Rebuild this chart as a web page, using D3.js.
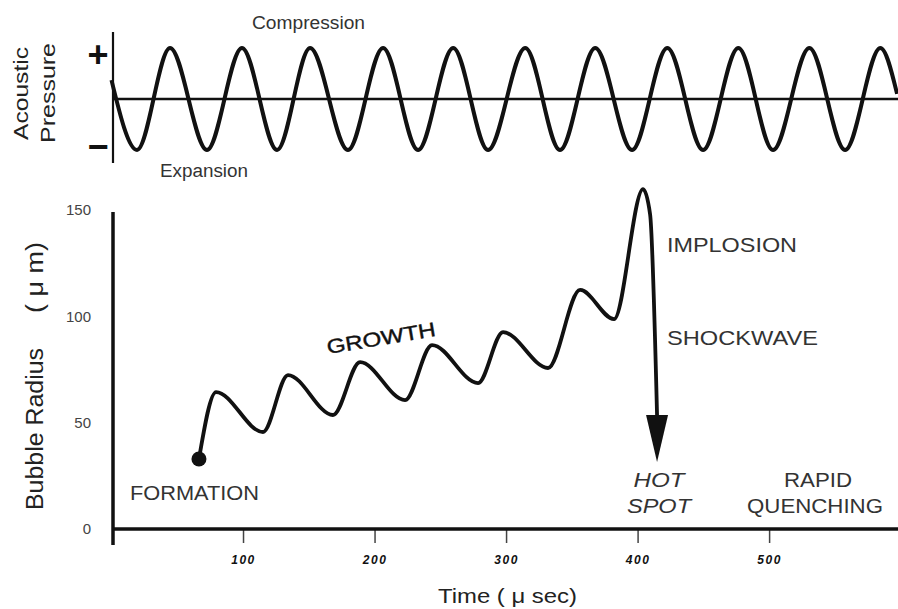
<!DOCTYPE html>
<html>
<head>
<meta charset="utf-8">
<script src="https://cdn.jsdelivr.net/npm/d3@7"></script>
<style>
  body { margin: 0; background: #fff; }
  svg text { font-family: "Liberation Sans", Arial, sans-serif; }
</style>
</head>
<body>
<script>
// tick values
const timeTicks = [100, 200, 300, 400, 500]
const radiusTicks = [0, 50, 100, 150]

// acoustic pressure, read at the peaks / troughs of the wave
const pressureTime = [0, 19.4, 44.5, 72.6, 99.2, 125.9, 151, 179.8, 206.5, 233.1, 259.8,
  286.3, 314.6, 341, 367.8, 395.8, 422.6, 449.8, 476.6, 503, 530.6, 557.8, 584.6, 597.3]
const pressureValue = [0.37, -1, 1, -1, 1, -1, 1, -1, 1, -1, 1,
  -1, 1, -1, 1, -1, 1, -1, 1, -1, 1, -1, 1, 0.1]

// bubble radius (micro m) vs time (micro sec)
const bubbleTime = [66.5, 79.5, 115.2, 134.2, 168.4, 189, 223.2, 243.7, 278.7, 297.7,
  331.9, 356.3, 382.1, 404.2, 409.5, 414.8]
const bubbleRadius = [32.9, 64.4, 45.6, 72.4, 53.6, 78.5, 60.6, 86.5, 68.6, 92.6,
  75.7, 112.4, 98.7, 159.8, 148, 53.6]

// shockwave arrow head: tip radius and base radius at the last time
const arrowTip = 31.5
const arrowBase = 53.6

const width = 898, height = 609

const svg = d3.select("body").append("svg")
  .attr("width", width)
  .attr("height", height)

// scales
const x = d3.scaleLinear().domain([0, 598]).range([111.5, 898])
const y = d3.scaleLinear().domain([0, 150]).range([529, 210])
const yp = d3.scaleLinear().domain([-1, 1]).range([150, 48])

// ---------- top panel: acoustic pressure ----------
svg.append("line")
  .attr("x1", 113).attr("x2", 113)
  .attr("y1", 32).attr("y2", 163)
  .attr("stroke", "#111").attr("stroke-width", 2.2)

svg.append("line")
  .attr("x1", 113).attr("x2", 898)
  .attr("y1", yp(0)).attr("y2", yp(0))
  .attr("stroke", "#111").attr("stroke-width", 2.5)

const pressureLine = d3.line()
  .x(d => x(d[0]))
  .y(d => yp(d[1]))
  .curve(d3.curveMonotoneX)

svg.append("path")
  .datum(d3.zip(pressureTime, pressureValue))
  .attr("d", pressureLine)
  .attr("fill", "none")
  .attr("stroke", "#111")
  .attr("stroke-width", 4)

svg.append("text")
  .attr("x", 98).attr("y", 67)
  .attr("text-anchor", "middle")
  .style("font-size", "36px").style("font-weight", "bold")
  .attr("fill", "#111")
  .text("+")
svg.append("text")
  .attr("x", 98).attr("y", 159)
  .attr("text-anchor", "middle")
  .style("font-size", "36px").style("font-weight", "bold")
  .attr("fill", "#111")
  .text("\u2212")

svg.append("text")
  .attr("x", 252).attr("y", 29)
  .attr("textLength", 113).attr("lengthAdjust", "spacingAndGlyphs")
  .style("font-size", "18px")
  .attr("fill", "#333")
  .text("Compression")

svg.append("text")
  .attr("x", 160).attr("y", 177)
  .attr("textLength", 88).attr("lengthAdjust", "spacingAndGlyphs")
  .style("font-size", "18px")
  .attr("fill", "#333")
  .text("Expansion")

svg.append("text")
  .attr("transform", "translate(28,93.5) rotate(-90)")
  .attr("text-anchor", "middle")
  .attr("textLength", 93).attr("lengthAdjust", "spacingAndGlyphs")
  .style("font-size", "21px")
  .attr("fill", "#222")
  .text("Acoustic")
svg.append("text")
  .attr("transform", "translate(55,93) rotate(-90)")
  .attr("text-anchor", "middle")
  .attr("textLength", 100).attr("lengthAdjust", "spacingAndGlyphs")
  .style("font-size", "21px")
  .attr("fill", "#222")
  .text("Pressure")

// ---------- bottom panel: bubble radius ----------
svg.append("g")
  .attr("transform", "translate(113,0)")
  .call(d3.axisLeft(y).tickValues(radiusTicks).tickSize(0).tickPadding(22))
  .call(g => g.select(".domain").remove())
  .selectAll("text")
  .style("font-size", "15px")
  .style("font-family", "'Liberation Sans', Arial, sans-serif")
  .attr("fill", "#444")

svg.append("g")
  .attr("transform", "translate(0,530)")
  .call(d3.axisBottom(x).tickValues(timeTicks).tickSize(13).tickPadding(12))
  .call(g => g.select(".domain").remove())
  .call(g => g.selectAll(".tick line").attr("stroke", "#444").attr("stroke-width", 1.5))
  .selectAll("text")
  .style("font-size", "12px")
  .style("font-weight", "bold")
  .style("font-style", "italic")
  .style("letter-spacing", "1.5px")
  .style("font-family", "'Liberation Sans', Arial, sans-serif")
  .attr("fill", "#111")

// axis lines
svg.append("line")
  .attr("x1", 113).attr("x2", 898)
  .attr("y1", 529).attr("y2", 529)
  .attr("stroke", "#111").attr("stroke-width", 3.5)
svg.append("line")
  .attr("x1", 113).attr("x2", 113)
  .attr("y1", 212).attr("y2", 545)
  .attr("stroke", "#111").attr("stroke-width", 3.5)

const bubbleLine = d3.line()
  .x(d => x(d[0]))
  .y(d => y(d[1]))
  .curve(d3.curveMonotoneX)

svg.append("path")
  .datum(d3.zip(bubbleTime, bubbleRadius))
  .attr("d", bubbleLine)
  .attr("fill", "none")
  .attr("stroke", "#111")
  .attr("stroke-width", 3.8)
  .attr("stroke-linejoin", "round")

// formation dot
svg.append("circle")
  .attr("cx", x(bubbleTime[0]))
  .attr("cy", y(bubbleRadius[0]))
  .attr("r", 7.5)
  .attr("fill", "#111")

// arrow head
const tipT = bubbleTime[bubbleTime.length - 1]
const ax = x(tipT)
svg.append("path")
  .attr("d", `M${ax - 11},${y(arrowBase)} L${ax + 11},${y(arrowBase)} L${ax},${y(arrowTip)} Z`)
  .attr("fill", "#111")

// annotations
const label = (txt, px, py, len, opts = {}) => {
  const t = svg.append("text")
    .attr("x", px).attr("y", py)
    .attr("text-anchor", opts.anchor || "start")
    .style("font-size", (opts.size || 21) + "px")
    .style("font-style", opts.italic ? "italic" : "normal")
    .attr("fill", opts.fill || "#333")
    .text(txt)
  if (len) t.attr("textLength", len).attr("lengthAdjust", "spacingAndGlyphs")
  if (opts.rotate) t.attr("transform", `rotate(${opts.rotate},${px},${py})`)
  return t
}

label("FORMATION", 130, 500, 129)
label("GROWTH", 328, 354, 110, { fill: "#111", size: 20, rotate: -9.5 })
  .attr("stroke", "#111").attr("stroke-width", 0.4)
label("IMPLOSION", 667, 252, 130)
label("SHOCKWAVE", 667, 345, 151)
label("HOT", 659, 487, 51, { anchor: "middle", italic: true })
label("SPOT", 659, 513, 64, { anchor: "middle", italic: true })
label("RAPID", 818, 487, 68, { anchor: "middle" })
label("QUENCHING", 815, 513, 136, { anchor: "middle" })

// axis titles
label("Time ( \u03bc sec)", 438, 603, 139, { size: 21, fill: "#222" })

svg.append("text")
  .attr("transform", "translate(43,429) rotate(-90)")
  .attr("text-anchor", "middle")
  .attr("textLength", 162).attr("lengthAdjust", "spacingAndGlyphs")
  .style("font-size", "23px")
  .attr("fill", "#222")
  .text("Bubble Radius")
svg.append("text")
  .attr("transform", "translate(43,277.5) rotate(-90)")
  .attr("text-anchor", "middle")
  .attr("textLength", 71).attr("lengthAdjust", "spacingAndGlyphs")
  .style("font-size", "23px")
  .attr("fill", "#222")
  .text("( \u03bc m)")
</script>
</body>
</html>
